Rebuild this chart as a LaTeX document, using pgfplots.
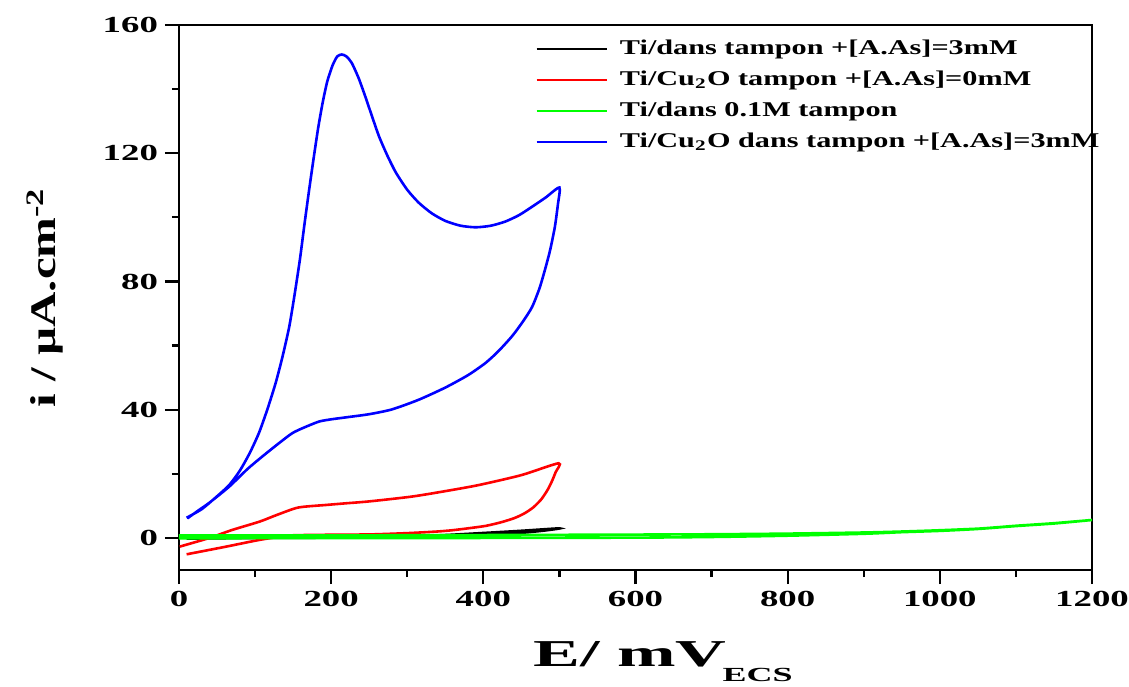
\documentclass[border=0pt]{standalone}
\usepackage{fontspec}
\setmainfont{Liberation Serif}
\usepackage{pgfplots}
\pgfplotsset{compat=1.18}
\definecolor{cblue}{RGB}{0,0,255}
\definecolor{cred}{RGB}{255,0,0}
\definecolor{cgreen}{RGB}{0,255,0}
\begin{document}
\begin{tikzpicture}
\begin{axis}[
  scale only axis, width=456.5pt, height=272.5pt,
  at={(0,0)}, anchor=south west,
  xmin=0, xmax=1200, ymin=-10, ymax=160,
  xtick={0,200,...,1200}, ytick={0,40,...,160},
  minor x tick num=1, minor y tick num=1,
  tick align=outside, xtick pos=left, ytick pos=left,
  major tick length=7pt, minor tick length=3.5pt,
  tick style={black, line width=1.1pt},
  axis line style={line width=1.3pt},
  /pgf/number format/1000 sep={},
  /pgf/number format/assume math mode=true,
  ticklabel style={font=\bfseries\fontsize{11.5}{11.5}\selectfont},
  xticklabel={\scalebox{1.6}[1]{\pgfmathprintnumber{\tick}}},
  yticklabel={\scalebox{1.6}[1]{\pgfmathprintnumber{\tick}}},
  xlabel={\scalebox{1.85}[1]{E/ mV}\hspace{-2pt}\raisebox{-7.5pt}{\scalebox{1.8}[1]{\fontsize{10}{10}\selectfont ECS}}},
  xlabel style={at={(axis description cs:0.53,-0.177)}, anchor=base, font=\bfseries\fontsize{19}{19}\selectfont},
  ylabel={\scalebox{1.36}[1]{i / µA.cm\textsuperscript{-2}}},
  ylabel style={at={(axis description cs:-0.147,0.5)}, anchor=center, font=\bfseries\fontsize{18}{18}\selectfont},
  legend style={draw=none, fill=none, at={(axis description cs:0.39,0.985)}, anchor=north west,
    inner sep=0pt, row sep=0pt, font=\bfseries\fontsize{10.5}{12}\selectfont,
    nodes={text height=7.5pt, text depth=2.5pt, inner ysep=2.75pt}},
  legend cell align=left,
  legend image code/.code={\draw[#1, line width=1.2pt] (0pt,0pt) -- (35pt,0pt); \path (39pt,0pt);},
  every axis plot/.append style={line width=1.3pt, smooth, tension=0.4},
]
% black: Ti/dans tampon +[A.As]=3mM
\addplot[black] coordinates {
(10,0.0) (100,0.1) (200,0.2) (300,0.5) (350,0.9) (404,1.6) (448,2.2) (500,3.0)
(480,2.3) (450,1.6) (400,0.9) (350,0.5) (300,0.3) (200,0.1) (100,0.0) (10,-0.2)};
\addlegendentry{\scalebox{1.44}[1]{Ti/dans tampon +[A.As]=3mM}}
% red
\addplot[cred] coordinates {
(1,-2.7) (40,0) (70,2.5) (106,5.1) (130,7.3) (157,9.5) (194,10.3) (219,10.8) (250,11.4)
(306,12.9) (350,14.6) (394,16.5) (450,19.6) (499,23.3)
(495,20.5) (490,17.6) (484,14.8) (476,12) (466,9.6) (455,7.8) (442,6.3) (425,5) (404,3.8)
(380,3.0) (359,2.4) (339,2.0)
(300,1.5) (251,1.1) (200,1.0) (163,0.9) (141.5,0.7) (106,-0.6) (60,-2.8) (10,-5.1)};
\addlegendentry{\scalebox{1.44}[1]{Ti/Cu\textsubscript{2}O tampon +[A.As]=0mM}}
% green
\addplot[cgreen] coordinates {
(0,0.8) (200,0.8) (400,0.9) (600,1.05) (700,1.15) (800,1.35) (900,1.7) (950,2.0)
(1000,2.4) (1050,2.9) (1079,3.4) (1100,3.8) (1150,4.6) (1200,5.6)
(1150,4.5) (1100,3.7) (1050,2.8) (1000,2.2) (950,1.8) (900,1.3) (800,0.7) (700,0.3)
(600,0.1) (400,0.0) (200,-0.05) (0,-0.1)};
\addlegendentry{\scalebox{1.44}[1]{Ti/dans 0.1M tampon}}
% blue
\addplot[cblue] coordinates {
(10,6.3) (30,9) (50,13) (66,16.5) (80,21) (93,26.5) (105,32.7) (116,40) (127,48.3)
(136,56.5) (145,66) (152,76) (159,87) (165,98) (171,108.5) (177,118.5) (183,128)
(189,136) (195,142.5) (202,147.5) (208,150.2) (214,150.8) (220,150.2) (227,148.2)
(236,143.5) (245,137.6) (254,131.3) (263,125.2) (274,119.2) (285,114) (300,108.6)
(315,104.6) (332,101.3) (350,98.9) (370,97.4) (390,96.9) (410,97.4) (429,98.7)
(447,100.7) (464,103.3) (482,106.2) (500,109.3)
(498,104) (494,97) (488,90) (482,84.5) (474,78) (464,72) (452,67.5) (438,63)
(420,58.3) (403,54.6) (380,50.8) (350,46.9) (315,43.1) (280,40.1) (250,38.6)
(219,37.6) (200,37) (184,36.3) (165,34.5) (149,32.7) (130,29.3) (109.5,25.4) (90,21.5)
(66,16) (40,11) (25,8.5) (11,6.1)};
\addlegendentry{\scalebox{1.44}[1]{Ti/Cu\textsubscript{2}O dans tampon +[A.As]=3mM}}
\end{axis}
\pgfresetboundingbox
\path[use as bounding box] (-89.5pt,-58pt) rectangle (475pt,285pt);
\end{tikzpicture}
\end{document}
